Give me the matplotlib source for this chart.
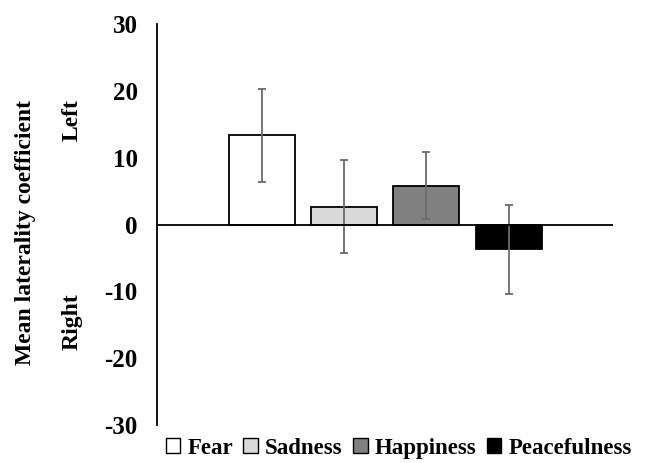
import matplotlib.pyplot as plt
from matplotlib.patches import Patch

emotions = ["Fear", "Sadness", "Happiness", "Peacefulness"]
means = [13.35, 2.7, 5.8, -3.7]
errors = [7.0, 6.9, 5.0, 6.7]
colors = ["#ffffff", "#d9d9d9", "#808080", "#000000"]
yticks = [-30, -20, -10, 0, 10, 20, 30]

plt.rcParams["font.family"] = ["Liberation Serif", "DejaVu Serif"]
plt.rcParams["font.weight"] = "bold"

fig = plt.figure(figsize=(6.48, 4.63), dpi=100)
ax = fig.add_axes([0.2423, 0.082, 0.7032, 0.866])

x = list(range(len(emotions)))
ax.bar(x, means, width=0.8, color=colors, edgecolor="black", linewidth=1.3, zorder=2)
ax.errorbar(x, means, yerr=errors, fmt="none", ecolor="#6b6b6b", elinewidth=1.3,
            capsize=3, capthick=1.3, zorder=3)
ax.axhline(0, color="black", linewidth=1.3, zorder=4)

ax.set_xlim(-1.27, 4.26)
ax.set_ylim(-30, 30)
ax.set_yticks(yticks)
ax.set_yticklabels([str(t) for t in yticks], fontsize=18, fontweight="bold")
ax.tick_params(axis="y", length=0, pad=14)
ax.set_xticks([])
for s in ["top", "right", "bottom"]:
    ax.spines[s].set_visible(False)
ax.spines["left"].set_linewidth(1.3)

fig.text(0.039, 0.498, "Mean laterality coefficient", rotation=90, ha="center",
         va="center", fontsize=17, fontweight="bold")
fig.text(0.111, 0.741, "Left", rotation=90, ha="center", va="center",
         fontsize=17, fontweight="bold")
fig.text(0.111, 0.305, "Right", rotation=90, ha="center", va="center",
         fontsize=17, fontweight="bold")

handles = [Patch(facecolor=c, edgecolor="black", linewidth=1) for c in colors]
fig.legend(handles, emotions, loc="center", bbox_to_anchor=(0.615, 0.032), ncol=4,
           frameon=False, handlelength=0.65, handleheight=0.65, handletextpad=0.3,
           columnspacing=0.45, borderaxespad=0,
           prop={"size": 16.5, "weight": "bold"})

fig.savefig("out.png", dpi=100)
